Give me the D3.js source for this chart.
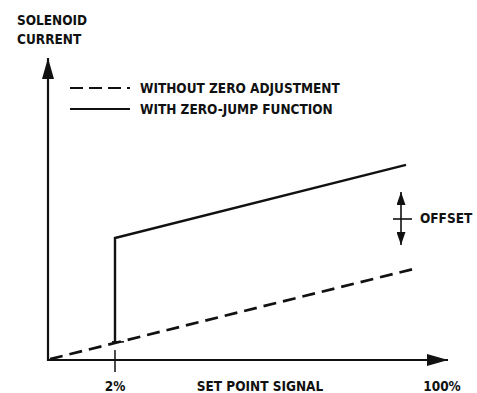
<!DOCTYPE html>
<html><head><meta charset="utf-8">
<script src="https://cdn.jsdelivr.net/npm/d3@7"></script>
<style>
html,body{margin:0;padding:0;background:#fff;}
text{font-family:"Liberation Sans Narrow","DejaVu Sans Condensed",Arial,sans-serif;font-weight:bold;fill:#111;}
</style></head><body>
<svg id="c" width="477" height="393"></svg>
<script>
// Schematic axis units: x 0..100 along the axis length, y 0..100 along axis height
const yTitle = ["SOLENOID", "CURRENT"];
const xTitle = "SET POINT SIGNAL";
const xTickLabels = ["2%", "100%"];
const xTickPos = [16.75, 98.5];
const withoutZeroX = [0.5, 91.25];
const withoutZeroY = [0.3, 30.1];
const zeroJumpX = [16.75, 16.75, 89.5];
const zeroJumpY = [6, 40.4, 64.6];
const legendLabels = ["WITHOUT ZERO ADJUSTMENT", "WITH ZERO-JUMP FUNCTION"];
const offsetLabel = "OFFSET";

const svg = d3.select("#c");
const x = d3.scaleLinear().domain([0, 100]).range([48, 448]);
const y = d3.scaleLinear().domain([0, 100]).range([360, 58]);
const ink = "#111";

const defs = svg.append("defs");
defs.append("marker").attr("id","arr").attr("viewBox","0 0 21 12").attr("refX",21).attr("refY",6)
  .attr("markerWidth",21).attr("markerHeight",12).attr("markerUnits","userSpaceOnUse").attr("orient","auto")
  .append("path").attr("d","M0,0 L21,6 L0,12 Z").attr("fill",ink);
defs.append("marker").attr("id","sm").attr("viewBox","0 0 13 9").attr("refX",13).attr("refY",4.5)
  .attr("markerWidth",13).attr("markerHeight",9).attr("markerUnits","userSpaceOnUse").attr("orient","auto")
  .append("path").attr("d","M0,0 L13,4.5 L0,9 Z").attr("fill",ink);

// axes
svg.append("line").attr("x1",x(0)).attr("y1",y(0)+1).attr("x2",x(0)).attr("y2",y(100))
  .attr("stroke",ink).attr("stroke-width",2.2).attr("marker-end","url(#arr)");
svg.append("line").attr("x1",x(0)-1).attr("y1",y(0)).attr("x2",x(100)).attr("y2",y(0))
  .attr("stroke",ink).attr("stroke-width",2.2).attr("marker-end","url(#arr)");

// tick at 2%
svg.append("line").attr("x1",x(xTickPos[0])).attr("x2",x(xTickPos[0]))
  .attr("y1",y(0)-10).attr("y2",y(0)+12).attr("stroke",ink).attr("stroke-width",1.5);

// tick labels
svg.selectAll("text.tick").data(xTickLabels).enter().append("text").attr("class","tick")
  .attr("x",(d,i)=>x(xTickPos[i])).attr("y",391).attr("text-anchor","middle")
  .attr("font-size",13.5).text(d=>d);
svg.append("text").attr("x",260).attr("y",391).attr("text-anchor","middle").attr("font-size",13.5).text(xTitle);

// y title
svg.selectAll("text.yt").data(yTitle).enter().append("text").attr("class","yt")
  .attr("x",17).attr("y",(d,i)=>25+i*19).attr("font-size",13.5).text(d=>d);

const line = d3.line().x(d=>x(d[0])).y(d=>y(d[1]));
svg.append("path").datum(withoutZeroX.map((v,i)=>[v,withoutZeroY[i]]))
  .attr("d",line).attr("fill","none").attr("stroke",ink).attr("stroke-width",2.7).attr("stroke-dasharray","13,7");
svg.append("path").datum(zeroJumpX.map((v,i)=>[v,zeroJumpY[i]]))
  .attr("d",line).attr("fill","none").attr("stroke",ink).attr("stroke-width",2.4);
svg.append("line").attr("x1",x(zeroJumpX[0])-3).attr("x2",x(zeroJumpX[0])+9)
  .attr("y1",y(zeroJumpY[0])).attr("y2",y(zeroJumpY[0])).attr("stroke",ink).attr("stroke-width",1.6);

// legend
const lg = svg.append("g");
[0,1].forEach(i=>{
  const ly = 88 + i*21;
  lg.append("line").attr("x1",70).attr("x2",130).attr("y1",ly).attr("y2",ly)
    .attr("stroke",ink).attr("stroke-width",2.2).attr("stroke-dasharray", i===0 ? "13,6" : null);
  lg.append("text").attr("x",140).attr("y",ly+5).attr("font-size",13.5).text(legendLabels[i]);
});

// offset indicator
const ox = 401;
svg.append("line").attr("x1",ox).attr("x2",ox).attr("y1",219).attr("y2",192)
  .attr("stroke",ink).attr("stroke-width",1.6).attr("marker-end","url(#sm)");
svg.append("line").attr("x1",ox).attr("x2",ox).attr("y1",219).attr("y2",245)
  .attr("stroke",ink).attr("stroke-width",1.6).attr("marker-end","url(#sm)");
svg.append("line").attr("x1",393).attr("x2",412).attr("y1",219).attr("y2",219)
  .attr("stroke",ink).attr("stroke-width",1.6);
svg.append("text").attr("x",420).attr("y",223).attr("font-size",13.5).text(offsetLabel);
</script>
</body></html>
